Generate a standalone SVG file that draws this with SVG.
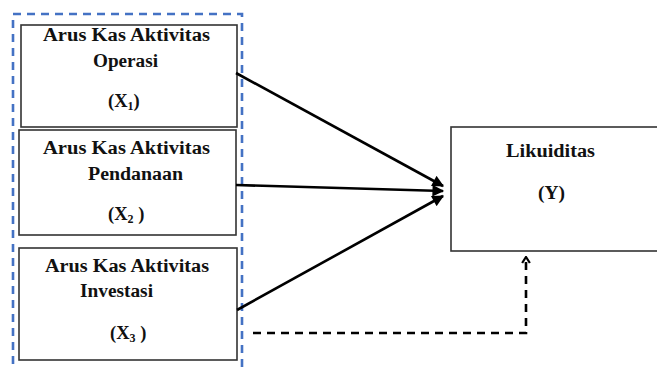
<svg xmlns="http://www.w3.org/2000/svg" width="657" height="369" viewBox="0 0 657 369">
<style>
.box{fill:#fff;stroke:#333;stroke-width:1.6}
.t{font-family:"Liberation Serif","Times New Roman",serif;font-weight:bold;font-size:18.5px;fill:#111}
.sub{font-size:12px}
.arr{stroke:#000;stroke-width:2.6;fill:none}
.dash{stroke:#000;stroke-width:2.6;fill:none;stroke-dasharray:8 6}
.group{fill:none;stroke:#4472C4;stroke-width:2.6;stroke-dasharray:8 6}
</style>
<defs>
<marker id="ah" viewBox="0 0 10 10" refX="9" refY="5" markerWidth="5" markerHeight="4.5" orient="auto" markerUnits="strokeWidth">
<path d="M0,0 L10,5 L0,10 Z" fill="#000"/>
</marker>
<marker id="oh" viewBox="0 0 10 12" refX="8.5" refY="6" markerWidth="3.3" markerHeight="4.2" orient="auto" markerUnits="strokeWidth">
<path d="M1.5,1.5 L8.5,6 L1.5,10.5" fill="none" stroke="#000" stroke-width="2.6"/>
</marker>
</defs>
<rect class="group" x="13" y="14" width="229" height="380"/>
<g id="x1">
<rect class="box" x="21" y="25" width="216" height="102"/>
<text class="t" x="43" y="41" textLength="167" lengthAdjust="spacingAndGlyphs">Arus Kas Aktivitas</text>
<text class="t" x="93" y="67" textLength="65" lengthAdjust="spacingAndGlyphs">Operasi</text>
<text class="t" x="108" y="107">(X<tspan class="sub" dy="3">1</tspan><tspan dy="-3">)</tspan></text>
</g>
<g id="x2">
<rect class="box" x="19" y="130" width="217" height="105"/>
<text class="t" x="43" y="154" textLength="167" lengthAdjust="spacingAndGlyphs">Arus Kas Aktivitas</text>
<text class="t" x="88" y="180" textLength="95" lengthAdjust="spacingAndGlyphs">Pendanaan</text>
<text class="t" x="108" y="220">(X<tspan class="sub" dy="3">2</tspan><tspan dy="-3"> )</tspan></text>
</g>
<g id="x3">
<rect class="box" x="19" y="248" width="218" height="112"/>
<text class="t" x="45" y="272" textLength="164" lengthAdjust="spacingAndGlyphs">Arus Kas Aktivitas</text>
<text class="t" x="80" y="297" textLength="73" lengthAdjust="spacingAndGlyphs">Investasi</text>
<text class="t" x="110" y="339">(X<tspan class="sub" dy="3">3</tspan><tspan dy="-3"> )</tspan></text>
</g>
<g id="y">
<rect class="box" x="451" y="127" width="220" height="124"/>
<text class="t" x="506" y="157" textLength="89" lengthAdjust="spacingAndGlyphs">Likuiditas</text>
<text class="t" x="538" y="199" textLength="27" lengthAdjust="spacingAndGlyphs">(Y)</text>
</g>
<g id="connectors">
<line class="arr" x1="236" y1="73" x2="443" y2="186" marker-end="url(#ah)"/>
<line class="arr" x1="236" y1="185" x2="443" y2="191" marker-end="url(#ah)"/>
<line class="arr" x1="237" y1="310" x2="443" y2="196" marker-end="url(#ah)"/>
<path class="dash" d="M253,333 H526 V257" marker-end="url(#oh)"/>
</g>
</svg>
